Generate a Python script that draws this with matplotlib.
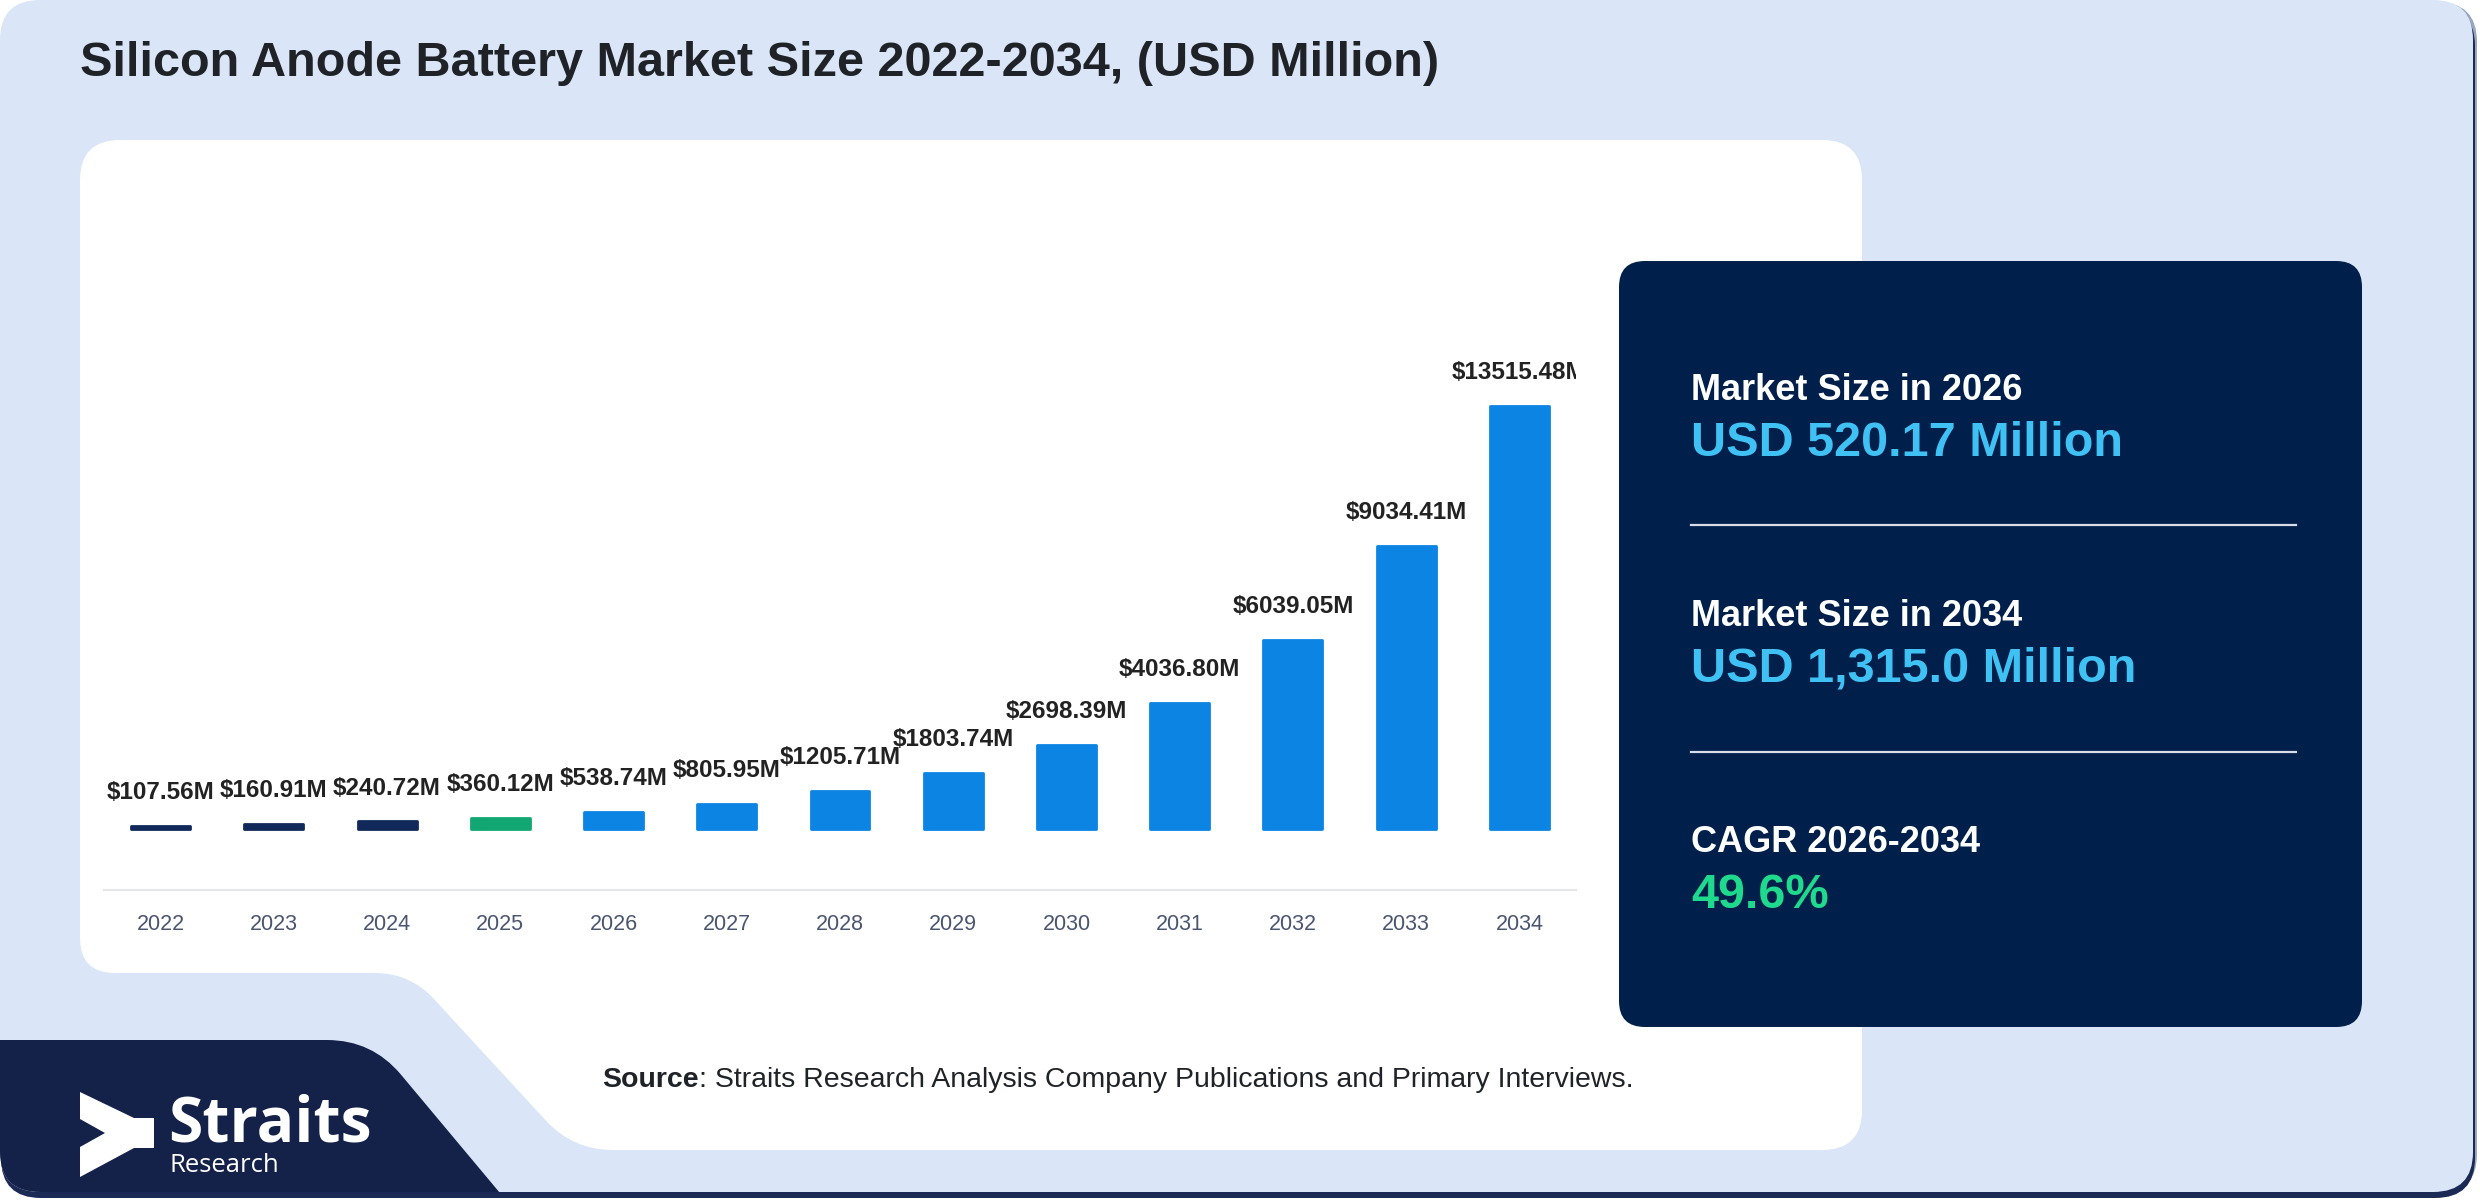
import matplotlib
matplotlib.use('Agg')
import matplotlib.pyplot as plt
from matplotlib.patches import FancyBboxPatch, PathPatch, Polygon
from matplotlib.path import Path
import numpy as np

plt.rcParams['font.family'] = ['Liberation Sans', 'DejaVu Sans']

# data
years = ['2022', '2023', '2024', '2025', '2026', '2027', '2028',
         '2029', '2030', '2031', '2032', '2033', '2034']
values = [107.56, 160.91, 240.72, 360.12, 538.74, 805.95, 1205.71,
          1803.74, 2698.39, 4036.80, 6039.05, 9034.41, 13515.48]
bar_colors = ['#10295a'] * 3 + ['#12a772'] + ['#0b84e3'] * 9

title = 'Silicon Anode Battery Market Size 2022-2034, (USD Million)'
stat_heads = ['Market Size in 2026', 'Market Size in 2034', 'CAGR 2026-2034']
stat_values = ['USD 520.17 Million', 'USD 1,315.0 Million', '49.6%']
stat_colors = ['#3fc1f3', '#3fc1f3', '#1fd98c']

LIGHT = '#dae6f8'
NAVY = '#001f4b'
LOGO_NAVY = '#142149'


def rounded_path(pts, r):
    # polygon with corners rounded by quadratic curves
    pts = [np.array(p, float) for p in pts]
    n = len(pts)
    verts, codes = [], []
    for i in range(n):
        prev, cur, nxt = pts[i - 1], pts[i], pts[(i + 1) % n]
        rr = r[i] if isinstance(r, (list, tuple)) else r
        a = cur + rr * (prev - cur) / np.linalg.norm(prev - cur)
        b = cur + rr * (nxt - cur) / np.linalg.norm(nxt - cur)
        verts += [a, cur, b]
        codes += [Path.MOVETO if i == 0 else Path.LINETO, Path.CURVE3, Path.CURVE3]
    verts.append(verts[0])
    codes.append(Path.CLOSEPOLY)
    return Path(verts, codes)


fig = plt.figure(figsize=(24.8, 12), dpi=100)
bg = fig.add_axes([0, 0, 1, 1])
bg.set_xlim(0, 2480)
bg.set_ylim(1200, 0)
bg.axis('off')

# background card
shadow_r = FancyBboxPatch((3, 2), 2474, 1192, boxstyle='round,pad=0,rounding_size=40',
                          fc='#9aa6bf', ec='none')
bg.add_patch(shadow_r)
shadow = FancyBboxPatch((1, 6), 2474, 1192, boxstyle='round,pad=0,rounding_size=40',
                        fc='#1b2a55', ec='none')
bg.add_patch(shadow)
card = FancyBboxPatch((0, 0), 2473, 1192, boxstyle='round,pad=0,rounding_size=40',
                      fc=LIGHT, ec='none')
bg.add_patch(card)

# white chart panel with the notch at bottom left
white = PathPatch(rounded_path([(80, 140), (1862, 140), (1862, 1150), (573, 1150),
                                (410, 973), (80, 973)], [40, 40, 40, 40, 35, 35]),
                  fc='white', ec='none')
bg.add_patch(white)

# navy logo block
logo_block = PathPatch(rounded_path([(-60, 1040), (372, 1040), (556, 1260), (-60, 1260)],
                                    [0, 45, 45, 0]), fc=LOGO_NAVY, ec='none')
bg.add_patch(logo_block)
logo_block.set_clip_path(card)

# logo mark
bg.add_patch(Polygon([(80, 1092), (134, 1118), (154, 1118), (154, 1148), (134, 1148),
                      (80, 1177), (80, 1147), (105, 1133), (80, 1119)],
                     closed=True, fc='white', ec='none'))
bg.text(168, 1141, 'Straits', fontfamily='Open Sans', fontweight='bold', fontsize=45,
        color='white', va='baseline')
bg.text(170, 1172, 'Research', fontfamily='Open Sans', fontsize=18.5,
        color='white', va='baseline')

# title
bg.text(80, 64, title, fontsize=35, fontweight='bold', color='#1f2328', va='center')

# source line
src = bg.text(602, 1080, 'Source', fontsize=20.5, fontweight='bold', color='#1f2328',
              va='center')
fig.canvas.draw()
ext = src.get_window_extent()
x_after = bg.transData.inverted().transform((ext.x1, 0))[0]
bg.text(x_after, 1080, ': Straits Research Analysis Company Publications and Primary Interviews.',
        fontsize=20.5, color='#1f2328', va='center')

# stats panel
panel = FancyBboxPatch((1619, 261), 743, 766, boxstyle='round,pad=0,rounding_size=26',
                       fc=NAVY, ec='none')
bg.add_patch(panel)
head_y = [390, 616, 843]
for i in range(3):
    bg.text(1691, head_y[i], stat_heads[i], fontsize=26, fontweight='bold',
            color='white', va='center')
    bg.text(1691, head_y[i] + 53, stat_values[i], fontsize=35, fontweight='bold',
            color=stat_colors[i], va='center')
for y in [525, 752]:
    bg.plot([1691, 2296], [y, y], color='#d8dde8', lw=1.6)

# bar chart
px_base, px_top, px_ax_bottom, px_ax_top = 829, 406, 890, 200
per_px = max(values) / (px_base - px_top)
ax = fig.add_axes([104 / 2480, 1 - px_ax_bottom / 1200,
                   (1576 - 104) / 2480, (px_ax_bottom - px_ax_top) / 1200])
ax.set_facecolor('none')
x = np.arange(len(years))
bars = ax.bar(x, values, width=0.52, color=bar_colors, edgecolor=bar_colors, linewidth=2)
for b in bars:
    b.set_joinstyle('round')
ax.set_xlim(-0.5, len(years) - 0.5)
ax.set_ylim(-(px_ax_bottom - px_base) * per_px, (px_base - px_ax_top) * per_px)

for xi, v in zip(x, values):
    ax.annotate(f'${v:.2f}M', (xi, v), xytext=(0, 24), textcoords='offset points',
                ha='center', va='center', fontsize=17.5, fontweight='bold',
                color='#222222', clip_on=True)

ax.set_xticks(x)
ax.set_xticklabels(years, fontsize=15.5, color='#4a5570')
ax.tick_params(axis='x', length=0, pad=17)
ax.set_yticks([])
for s in ['top', 'left', 'right']:
    ax.spines[s].set_visible(False)
ax.spines['bottom'].set_color('#e2e5ea')
ax.spines['bottom'].set_linewidth(1.5)

fig.savefig('out.png', dpi=100, facecolor='white')
